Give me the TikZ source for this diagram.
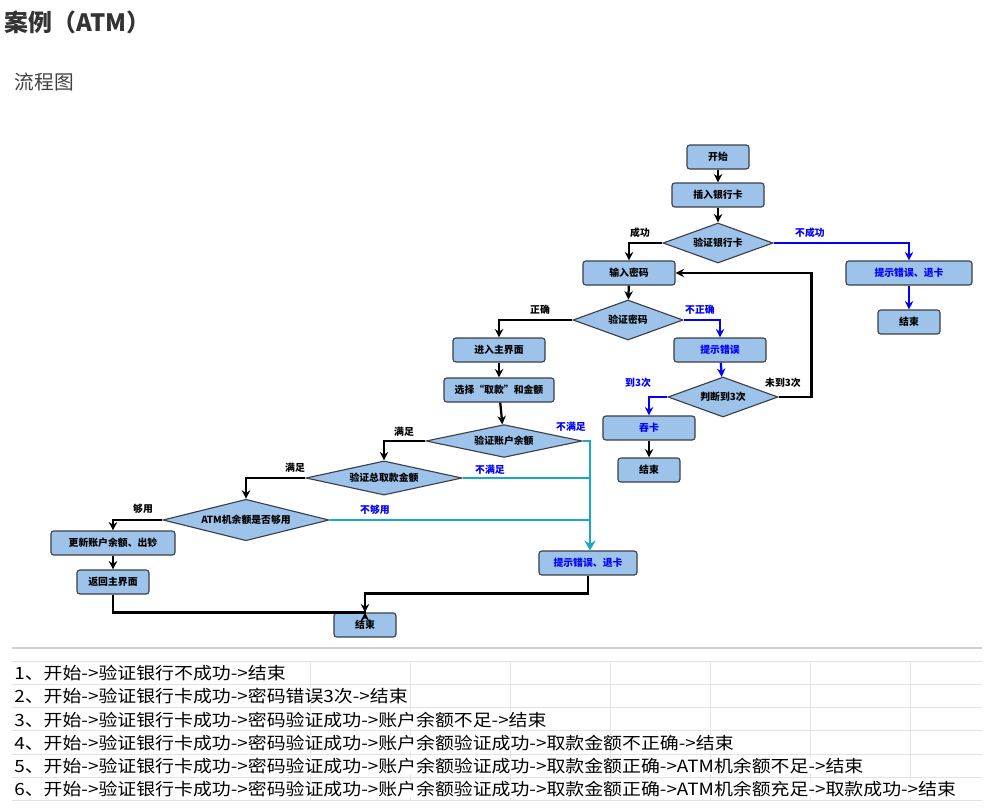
\documentclass[tikz,border=0pt]{standalone}
\usepackage{fontspec}
\setmainfont{Noto Sans CJK SC}
\usepackage{graphicx}
\usepackage{tikz}
\usetikzlibrary{shapes.geometric,arrows.meta}
\definecolor{boxfill}{HTML}{9DC3EA}
\definecolor{boxline}{HTML}{3A3F48}
\definecolor{teal}{HTML}{19A9C4}
\definecolor{rule}{HTML}{D0D0D0}
\tikzset{
	box/.style={draw=boxline,fill=boxfill,rounded corners=2pt,line width=0.8pt,
		minimum height=0.6cm,font=\fontsize{7}{8}\selectfont\bfseries,inner sep=1pt},
	dia/.style={diamond,aspect=2.8,draw=boxline,fill=boxfill,line width=0.8pt,
		font=\fontsize{7}{8}\selectfont\bfseries,inner sep=0pt},
	lab/.style={font=\fontsize{7}{8}\selectfont\bfseries},
	blk/.style={line width=1.6pt,-{Stealth[length=6pt,width=6pt]}},
	blu/.style={blk,draw=blue},
	tea/.style={line width=1.6pt,draw=teal}
}
\begin{document}
\begin{tikzpicture}[x=0.025cm,y=-0.025cm]
			\useasboundingbox (0,0) rectangle (985,810);
			\node[anchor=west,font=\fontsize{17}{20}\selectfont\bfseries,text=black!80] (title) at (0,22) {案例（ATM）};
			\node[anchor=west,font=\fontsize{14}{16}\selectfont,text=black!75] (sub) at (10,82) {流程图};
			% nodes
			\node[box,minimum width=1.55cm] (start) at (718,157) {开始};
			\node[box,minimum width=2.3cm] (insert) at (718,195) {插入银行卡};
			\node[dia,minimum width=2.75cm,minimum height=1cm] (vcard) at (718,243) {验证银行卡};
			\node[box,minimum width=2.3cm] (pwd) at (629,273) {输入密码};
			\node[box,minimum width=3.15cm,text=blue] (errcard) at (909,273) {提示错误、退卡};
			\node[box,minimum width=1.55cm] (endA) at (909,322) {结束};
			\node[dia,minimum width=2.75cm,minimum height=1cm] (vpwd) at (628,320) {验证密码};
			\node[box,minimum width=2.3cm] (main) at (499,350) {进入主界面};
			\node[box,minimum width=2.3cm,text=blue] (errpwd) at (720,350) {提示错误};
			\node[box,minimum width=2.75cm] (select) at (499,390) {选择“取款”和金额};
			\node[dia,minimum width=2.75cm,minimum height=1cm] (judge) at (723,397) {判断到3次};
			\node[box,minimum width=2.3cm,text=blue] (swallow) at (649,428) {吞卡};
			\node[box,minimum width=1.55cm] (endB) at (649,470) {结束};
			\node[dia,minimum width=3.9cm,minimum height=0.82cm] (vbal) at (504,441) {验证账户余额};
			\node[dia,minimum width=3.9cm,minimum height=0.82cm] (vtotal) at (384,478) {验证总取款金额};
			\node[dia,minimum width=4.15cm,minimum height=1cm] (atm) at (246,520) {ATM机余额是否够用};
			\node[box,minimum width=3.1cm] (update) at (113,543) {更新账户余额、出钞};
			\node[box,minimum width=1.8cm] (back) at (113,582) {返回主界面};
			\node[box,minimum width=2.45cm,text=blue] (errcardB) at (588,563) {提示错误、退卡};
			\node[box,minimum width=1.55cm] (endC) at (365,625) {结束};
			\coordinate (join) at (590,478);
			% connectors
			\draw[blk] (start) -- (insert);
			\draw[blk] (insert) -- (vcard);
			\draw[blk] (vcard.west) -| (pwd.north);
			\draw[blu] (vcard.east) -| (errcard.north);
			\draw[blu] (errcard) -- (endA);
			\draw[blk] (pwd) -- (vpwd);
			\draw[blk] (vpwd.west) -| (main.north);
			\draw[blu] (vpwd.east) -| (errpwd.north);
			\draw[blu] (errpwd) -- (judge);
			\draw[blk] (judge.east) -- ++(33,0) |- (pwd.east);
			\draw[blu] (judge.west) -| (swallow.north);
			\draw[blk] (swallow) -- (endB);
			\draw[blk] (main) -- (select);
			\draw[blk] (select) -- (vbal);
			\draw[blk] (vbal.west) -| (vtotal.north);
			\draw[blk] (vtotal.west) -| (atm.north);
			\draw[blk] (atm.west) -| (update.north);
			\draw[blk] (update) -- (back);
			\draw[tea] (vbal.east) -| (join);
			\draw[tea] (vtotal.east) -- (join);
			\draw[tea] (atm.east) -| (join);
			\draw[tea,-{Stealth[length=7pt,width=8pt]}] (join) -- (join |- errcardB.north);
			\draw[blk] (back.south) -- ++(0,18) -| (endC.north);
			\draw[blk] (errcardB.south) -- ++(0,18) -| (endC.north);
			% labels
			\node[lab] (l1) at (640,233) {成功};
			\node[lab,text=blue] (l2) at (810,233) {不成功};
			\node[lab] (l3) at (540,310) {正确};
			\node[lab,text=blue] (l4) at (700,310) {不正确};
			\node[lab,text=blue] (l5) at (638,383) {到3次};
			\node[lab] (l6) at (783,383) {未到3次};
			\node[lab] (l7) at (404,432) {满足};
			\node[lab,text=blue] (l8) at (571,427) {不满足};
			\node[lab] (l9) at (295,468) {满足};
			\node[lab,text=blue] (l10) at (490,470) {不满足};
			\node[lab] (l11) at (143,509) {够用};
			\node[lab,text=blue] (l12) at (375,510) {不够用};
			% table
			\draw[rule,line width=0.8pt] (12,648) -- (982,648);
			\foreach \Y in {661,684,707,730,754,777,800}
				\draw[rule!60] (12,\Y) -- (982,\Y);
			\foreach \X in {310,410,510,610,710,810,910}
				\draw[rule!60] (\X,661) -- (\X,800);
			\foreach \N/\T in {
				1/{1、开始->验证银行不成功->结束},
				2/{2、开始->验证银行卡成功->密码错误3次->结束},
				3/{3、开始->验证银行卡成功->密码验证成功->账户余额不足->结束},
				4/{4、开始->验证银行卡成功->密码验证成功->账户余额验证成功->取款金额不正确->结束},
				5/{5、开始->验证银行卡成功->密码验证成功->账户余额验证成功->取款金额正确->ATM机余额不足->结束},
				6/{6、开始->验证银行卡成功->密码验证成功->账户余额验证成功->取款金额正确->ATM机余额充足->取款成功->结束}}
				\node[anchor=west,inner sep=0pt,fill=white,font=\fontsize{12}{14}\selectfont] (row\N) at (14,650+23.2*\N) {\scalebox{1.12}[1]{\T}};
\end{tikzpicture}
\end{document}
